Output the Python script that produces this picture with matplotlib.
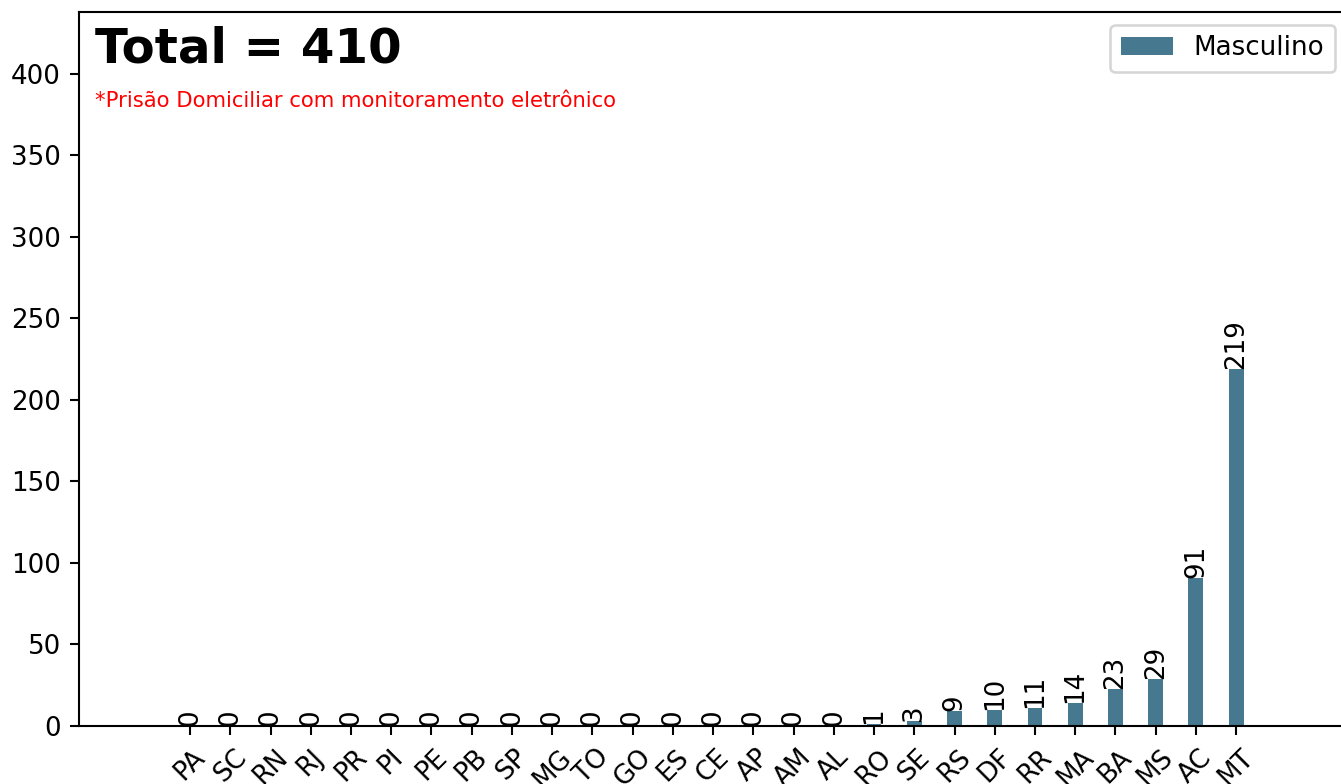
import matplotlib.pyplot as plt
import numpy as np

estados = ["PA", "SC", "RN", "RJ", "PR", "PI", "PE", "PB", "SP", "MG", "TO", "GO", "ES",
           "CE", "AP", "AM", "AL", "RO", "SE", "RS", "DF", "RR", "MA", "BA", "MS", "AC", "MT"]
masculino = [0, 0, 0, 0, 0, 0, 0, 0, 0, 0, 0, 0, 0,
             0, 0, 0, 0, 1, 3, 9, 10, 11, 14, 23, 29, 91, 219]

DPI = 188
fig = plt.figure(figsize=(1341 / DPI, 784 / DPI), dpi=DPI)
# the right side of the axes runs past the picture edge, as in the original crop
ax = fig.add_axes([79 / 1341, 1 - 726 / 784, 1269 / 1341, 714 / 784])

x = np.arange(len(estados))
bars = ax.bar(x, masculino, width=0.37, color="#46788f", label="Masculino")
ax.bar_label(bars, rotation=90, padding=0)

ax.set_xticks(x)
ax.set_xticklabels(estados, rotation=45)
ax.set_xlim(-2.76, len(estados) - 1 + 2.78)
ax.set_ylim(0, max(masculino) * 2)

ax.text(0.0126, 0.981, f"Total = {sum(masculino)}", transform=ax.transAxes,
        fontsize=18.5, fontweight="bold", va="top", ha="left")
ax.text(0.0126, 0.875, "*Prisão Domiciliar com monitoramento eletrônico",
        transform=ax.transAxes, fontsize=8.1, color="red", va="center", ha="left")
ax.legend(loc="upper right")

fig.savefig("out.png", dpi=DPI)
